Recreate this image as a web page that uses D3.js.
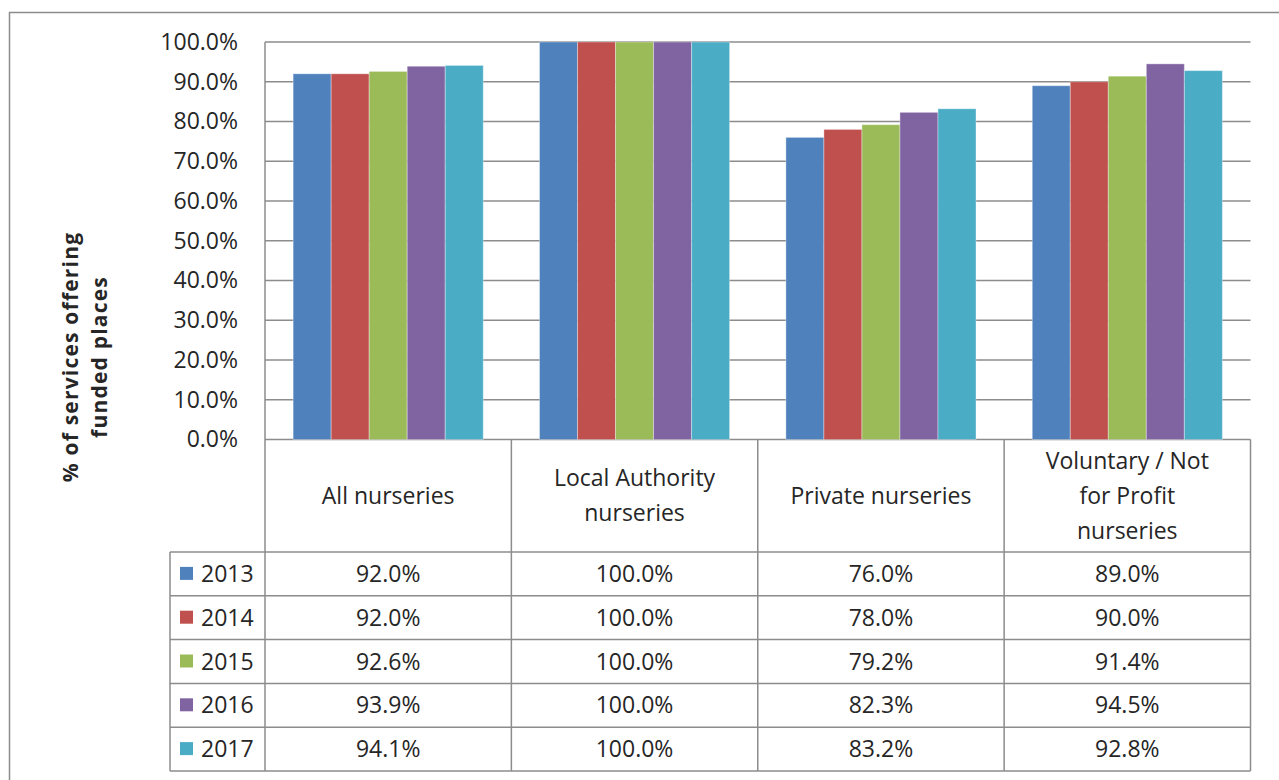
<!DOCTYPE html>
<html>
<head>
<meta charset="utf-8">
<script src="https://cdn.jsdelivr.net/npm/d3@7"></script>
<style>
  body { margin: 0; background: #fff; }
  svg { display: block; font-family: "Open Sans", sans-serif; }
</style>
</head>
<body>
<div id="chart"></div>
<script>
// data
const categories = [
  ['All nurseries'],
  ['Local Authority', 'nurseries'],
  ['Private nurseries'],
  ['Voluntary / Not', 'for Profit', 'nurseries']
];
const years = ['2013', '2014', '2015', '2016', '2017'];
const values2013 = [0.920, 1.000, 0.760, 0.890];
const values2014 = [0.920, 1.000, 0.780, 0.900];
const values2015 = [0.926, 1.000, 0.792, 0.914];
const values2016 = [0.939, 1.000, 0.823, 0.945];
const values2017 = [0.941, 1.000, 0.832, 0.928];
const yTicks = [0, 0.1, 0.2, 0.3, 0.4, 0.5, 0.6, 0.7, 0.8, 0.9, 1.0];
const colors = ['#4F81BD', '#C0504D', '#9BBB59', '#8064A2', '#4BACC6'];

const series = [values2013, values2014, values2015, values2016, values2017];

const width = 1279, height = 780;
const plotLeft = 265, plotRight = 1250.5, plotTop = 42, plotBottom = 439.5;
const tableLeft = 170, headerBottom = 552, tableBottom = 771;
const lineColor = '#8c8c8c';
const textColor = '#262626';

const svg = d3.select('#chart').append('svg')
  .attr('width', width)
  .attr('height', height);

// chart frame (continues past the picture on right and bottom)
svg.append('rect')
  .attr('x', 9.5).attr('y', 12.5)
  .attr('width', 1400).attr('height', 900)
  .attr('fill', 'none')
  .attr('stroke', lineColor)
  .attr('stroke-width', 1.5);

const catKeys = categories.map(c => c.join(' '));

const x = d3.scaleBand()
  .domain(catKeys)
  .range([plotLeft, plotRight]);

const x1 = d3.scaleBand()
  .domain(years)
  .range([0, x.bandwidth()])
  .paddingOuter(0.74);

const y = d3.scaleLinear()
  .domain([0, 1])
  .range([plotBottom, plotTop]);

// gridlines
svg.append('g')
  .selectAll('line')
  .data(yTicks)
  .join('line')
  .attr('x1', plotLeft).attr('x2', plotRight)
  .attr('y1', d => y(d)).attr('y2', d => y(d))
  .attr('stroke', lineColor)
  .attr('stroke-width', 1.5);

// y axis labels
const yAxis = svg.append('g')
  .attr('transform', `translate(${plotLeft},0)`)
  .call(d3.axisLeft(y).tickValues(yTicks).tickFormat(d3.format('.1%')).tickSize(0).tickPadding(27));
yAxis.select('.domain').remove();
yAxis.selectAll('text')
  .attr('font-family', '"Open Sans", sans-serif')
  .attr('font-size', 23)
  .attr('fill', textColor);

// bars
const groups = svg.append('g')
  .selectAll('g')
  .data(series)
  .join('g')
  .attr('fill', (d, i) => colors[i]);

groups.selectAll('rect')
  .data((vals, i) => vals.map((v, j) => ({ cat: catKeys[j], year: years[i], value: v })))
  .join('rect')
  .attr('x', d => x(d.cat) + x1(d.year))
  .attr('y', d => y(d.value))
  .attr('width', x1.bandwidth())
  .attr('height', d => y(0) - y(d.value))
  .attr('stroke', 'rgba(255,255,255,0.35)')
  .attr('stroke-width', 1);

// left axis line
svg.append('line')
  .attr('x1', plotLeft).attr('x2', plotLeft)
  .attr('y1', plotTop).attr('y2', tableBottom)
  .attr('stroke', lineColor).attr('stroke-width', 1.5);

// data table
const rows = d3.scaleBand()
  .domain(years)
  .range([headerBottom, tableBottom]);

const table = svg.append('g');

// vertical lines between categories
table.selectAll('line.col')
  .data(catKeys)
  .join('line')
  .attr('class', 'col')
  .attr('x1', d => x(d) + x.bandwidth()).attr('x2', d => x(d) + x.bandwidth())
  .attr('y1', plotBottom).attr('y2', tableBottom)
  .attr('stroke', lineColor).attr('stroke-width', 1.5);

// legend column left edge
table.append('line')
  .attr('x1', tableLeft).attr('x2', tableLeft)
  .attr('y1', headerBottom).attr('y2', tableBottom)
  .attr('stroke', lineColor).attr('stroke-width', 1.5);

// horizontal lines for rows
table.selectAll('line.row')
  .data(years.map(yr => rows(yr)).concat([tableBottom]))
  .join('line')
  .attr('class', 'row')
  .attr('x1', tableLeft).attr('x2', plotRight)
  .attr('y1', d => d).attr('y2', d => d)
  .attr('stroke', lineColor).attr('stroke-width', 1.5);

// header labels
const headerMid = (plotBottom + headerBottom) / 2;
const lineGap = 35;
table.selectAll('text.head')
  .data(categories)
  .join('text')
  .attr('class', 'head')
  .attr('x', (d, i) => x(catKeys[i]) + x.bandwidth() / 2)
  .attr('y', headerMid)
  .attr('text-anchor', 'middle')
  .attr('font-size', 23)
  .attr('fill', textColor)
  .selectAll('tspan')
  .data(d => d.map((t, k) => ({ t, k, n: d.length })))
  .join('tspan')
  .attr('x', function() { return this.parentNode.getAttribute('x'); })
  .attr('y', d => headerMid + (d.k - (d.n - 1) / 2) * lineGap)
  .attr('dy', '0.35em')
  .text(d => d.t);

// legend keys and year labels
const legendRows = table.selectAll('g.leg')
  .data(years)
  .join('g')
  .attr('class', 'leg')
  .attr('transform', d => `translate(0,${rows(d) + rows.bandwidth() / 2})`);

legendRows.append('rect')
  .attr('x', 180).attr('y', -7)
  .attr('width', 13).attr('height', 13)
  .attr('fill', (d, i) => colors[i]);

legendRows.append('text')
  .attr('x', 201)
  .attr('dy', '0.35em')
  .attr('font-size', 23)
  .attr('fill', textColor)
  .text(d => d);

// cell values
const fmt = d3.format('.1%');
series.forEach((vals, i) => {
  table.append('g')
    .selectAll('text')
    .data(vals)
    .join('text')
    .attr('x', (d, j) => x(catKeys[j]) + x.bandwidth() / 2)
    .attr('y', rows(years[i]) + rows.bandwidth() / 2)
    .attr('dy', '0.35em')
    .attr('text-anchor', 'middle')
    .attr('font-size', 23)
    .attr('fill', textColor)
    .text(d => fmt(d));
});

// y axis title
const title = svg.append('text')
  .attr('transform', 'translate(78,357) rotate(-90)')
  .attr('text-anchor', 'middle')
  .attr('font-size', 21)
  .attr('font-weight', 'bold')
  .attr('letter-spacing', 1.2)
  .attr('fill', textColor);
title.append('tspan').attr('x', 0).attr('y', 0).text('% of services offering');
title.append('tspan').attr('x', 0).attr('y', 29).text('funded places');
</script>
</body>
</html>
